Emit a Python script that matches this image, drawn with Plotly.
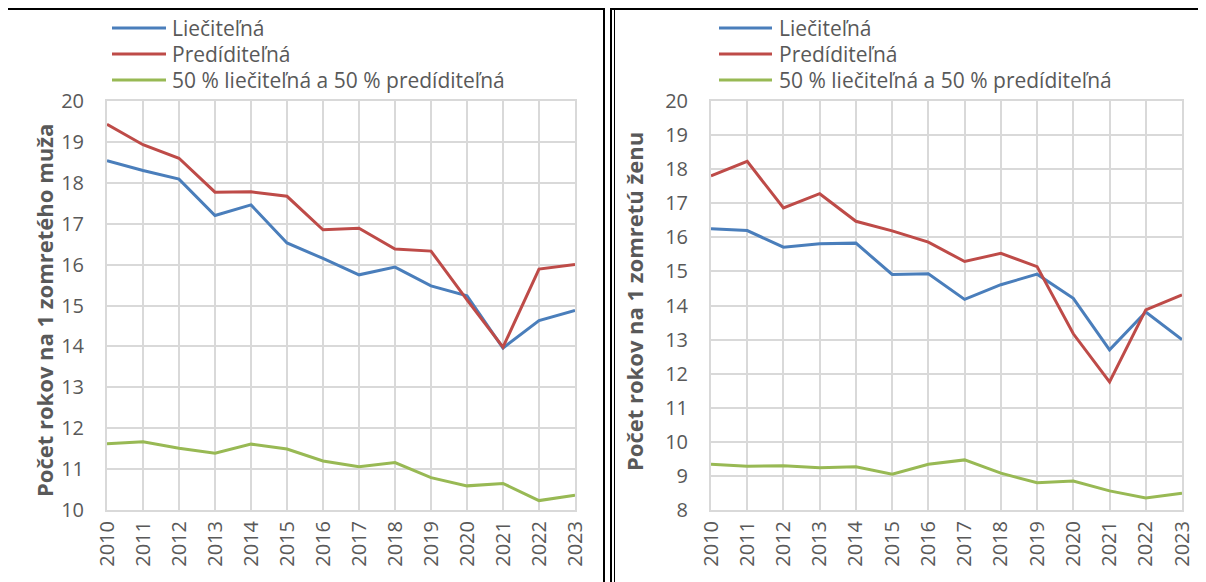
import plotly.graph_objects as go

years = list(range(2010, 2024))
year_labels = [str(y) for y in years]

# muži
men_liecitelna = [18.54, 18.30, 18.09, 17.20, 17.46, 16.53, 16.15, 15.75, 15.94, 15.48, 15.24, 13.96, 14.63, 14.88]
men_preditelna = [19.43, 18.93, 18.60, 17.77, 17.78, 17.67, 16.85, 16.89, 16.38, 16.33, 15.14, 13.98, 15.89, 16.00]
men_polovica = [11.62, 11.67, 11.51, 11.39, 11.61, 11.49, 11.20, 11.06, 11.16, 10.79, 10.59, 10.65, 10.23, 10.36]

# ženy
women_liecitelna = [16.25, 16.20, 15.71, 15.81, 15.83, 14.91, 14.93, 14.18, 14.61, 14.92, 14.21, 12.70, 13.81, 13.00]
women_preditelna = [17.80, 18.23, 16.86, 17.28, 16.47, 16.19, 15.86, 15.29, 15.53, 15.14, 13.17, 11.76, 13.87, 14.31]
women_polovica = [9.34, 9.28, 9.30, 9.24, 9.27, 9.05, 9.34, 9.47, 9.08, 8.80, 8.85, 8.56, 8.35, 8.49]

series_names = ["Liečiteľná", "Predíditeľná", "50 % liečiteľná a 50 % predíditeľná"]
colors = ["#4a7ebb", "#be4b48", "#98b954"]

# stránka má 8 px okraj, preto je graf o 8 px menší a posunutý
OFF = 8
W, H = 1206 - OFF, 582 - OFF
GRID = "#d9d9d9"
TXT = "#595959"
FONT = "Open Sans"


def fx(x):
    return (x - OFF) / W


def fy(y):
    return 1 - (y - OFF) / H


fig = go.Figure()

panels = [
    ("x", "y", [men_liecitelna, men_preditelna, men_polovica]),
    ("x2", "y2", [women_liecitelna, women_preditelna, women_polovica]),
]
for xa, ya, data in panels:
    for name, vals, col in zip(series_names, data, colors):
        fig.add_trace(
            go.Scatter(
                x=years,
                y=vals,
                name=name,
                mode="lines",
                line={"color": col, "width": 3},
                xaxis=xa,
                yaxis=ya,
                showlegend=False,
            )
        )

xaxis_common = dict(
    range=[2010, 2023],
    tickmode="array",
    tickvals=years,
    ticktext=year_labels,
    tickangle=-90,
    showgrid=True,
    gridcolor=GRID,
    gridwidth=2,
    showline=True,
    linecolor=GRID,
    linewidth=2,
    mirror=True,
    ticks="",
    ticklabelstandoff=1,
    tickfont={"family": FONT, "size": 20, "color": TXT},
    zeroline=False,
    automargin=False,
    fixedrange=True,
)
yaxis_common = dict(
    dtick=1,
    showgrid=True,
    gridcolor=GRID,
    gridwidth=2,
    showline=True,
    linecolor=GRID,
    linewidth=2,
    mirror=True,
    ticks="",
    ticklabelstandoff=17,
    tickfont={"family": FONT, "size": 20, "color": TXT},
    zeroline=False,
    automargin=False,
    fixedrange=True,
)

fig.update_layout(
    width=W,
    height=H,
    margin={"l": 0, "r": 0, "t": 0, "b": 0, "autoexpand": False},
    paper_bgcolor="white",
    plot_bgcolor="white",
    showlegend=False,
    xaxis={**xaxis_common, "domain": [fx(107), fx(575)], "anchor": "y"},
    yaxis={**yaxis_common, "domain": [fy(510), fy(101)], "range": [10, 20], "anchor": "x"},
    xaxis2={**xaxis_common, "domain": [fx(711), fx(1182)], "anchor": "y2"},
    yaxis2={**yaxis_common, "domain": [fy(510), fy(101)], "range": [8, 20], "anchor": "x2"},
)

# legendy (ručne, kvôli dĺžke čiar a riadkovaniu)
legend_rows = [28, 54, 80]
for line_x0, line_x1, text_x in [(112, 166, 170), (719, 772, 777)]:
    for name, col, row_y in zip(series_names, colors, legend_rows):
        fig.add_shape(type="line", xref="paper", yref="paper",
                      x0=fx(line_x0), x1=fx(line_x1), y0=fy(row_y), y1=fy(row_y),
                      line={"color": col, "width": 3})
        fig.add_annotation(text=name, x=fx(text_x), y=fy(row_y), xref="paper", yref="paper",
                           xanchor="left", yanchor="middle", showarrow=False,
                           font={"family": FONT, "size": 21, "color": TXT})

# titulky osí
fig.add_annotation(
    text="<b>Počet rokov na 1 zomretého muža</b>",
    x=fx(27), y=fy(311), xref="paper", yref="paper",
    textangle=-90, showarrow=False,
    font={"family": FONT, "size": 22, "color": TXT},
)
fig.add_annotation(
    text="<b>Počet rokov na 1 zomretú ženu</b>",
    x=fx(634), y=fy(302), xref="paper", yref="paper",
    textangle=-90, showarrow=False,
    font={"family": FONT, "size": 22, "color": TXT},
)

# nadpis nad grafmi je v predlohe takmer celý odrezaný
fig.add_annotation(
    text="<b><i>v rokoch 2010 – 2023</i></b>",
    x=0, y=1, xref="paper", yref="paper",
    xanchor="left", yanchor="bottom", yshift=2,
    showarrow=False,
    font={"family": "Liberation Serif", "size": 25, "color": "black"},
)

# rámčeky panelov
fig.add_shape(type="line", xref="paper", yref="paper",
              x0=0, x1=fx(605), y0=fy(9), y1=fy(9),
              line={"color": "black", "width": 2})
fig.add_shape(type="line", xref="paper", yref="paper",
              x0=fx(610), x1=1, y0=fy(9), y1=fy(9),
              line={"color": "black", "width": 2})
fig.add_shape(type="line", xref="paper", yref="paper",
              x0=fx(604), x1=fx(604), y0=0, y1=fy(8),
              line={"color": "black", "width": 2})
fig.add_shape(type="line", xref="paper", yref="paper",
              x0=fx(611), x1=fx(611), y0=0, y1=fy(8),
              line={"color": "black", "width": 2})
fig.add_shape(type="line", xref="paper", yref="paper",
              x0=fx(614.5), x1=fx(614.5), y0=0, y1=fy(9),
              line={"color": "black", "width": 1})

fig.write_html("out.html")
